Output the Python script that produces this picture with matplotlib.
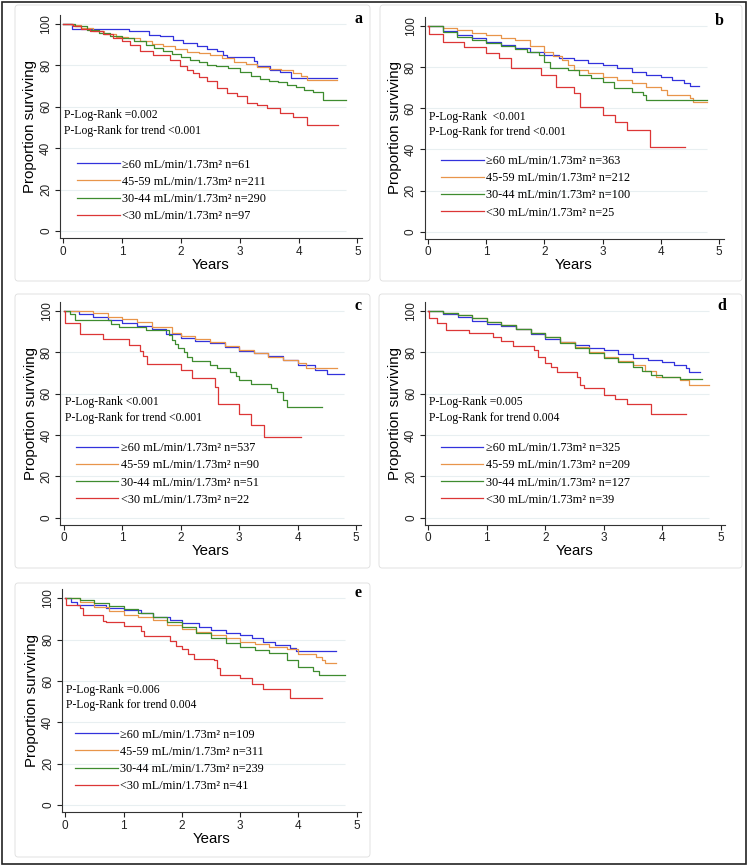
import matplotlib
matplotlib.use("Agg")
import matplotlib.pyplot as plt
from matplotlib.lines import Line2D
from matplotlib.patches import Rectangle, FancyBboxPatch

# ---- data (years, % surviving), step curves ----
groups = ["\u226560", "45-59", "30-44", "<30"]

# panel a
a_t60 = [0, 0.15, 1.12, 1.45, 1.65, 1.87, 2.04, 2.27, 2.44, 2.61, 2.72, 2.78, 3.24, 3.3, 3.52, 3.68, 3.88, 4.65]
a_s60 = [100, 97.8, 96.5, 94.8, 94.0, 92.4, 90.8, 89.2, 88.0, 86.8, 85.2, 83.9, 82.0, 79.5, 78.0, 77.0, 73.8, 73.8]
a_t45 = [0, 0.15, 0.3, 0.5, 0.7, 0.9, 1.1, 1.3, 1.5, 1.7, 1.9, 2.1, 2.3, 2.5, 2.7, 2.9, 3.1, 3.3, 3.5, 3.7, 3.9, 4.05, 4.15, 4.65]
a_s45 = [100, 99.5, 98.2, 96.5, 95.2, 93.8, 93.0, 91.6, 90.4, 89.2, 88.0, 86.6, 85.8, 84.8, 83.4, 81.8, 80.6, 79.2, 78.4, 77.6, 76.4, 75.0, 73.0, 73.0]
a_t30 = [0, 0.2, 0.4, 0.6, 0.8, 1.0, 1.2, 1.4, 1.55, 1.7, 1.85, 2.0, 2.15, 2.3, 2.45, 2.6, 2.8, 3.0, 3.2, 3.35, 3.5, 3.65, 3.8, 3.95, 4.1, 4.25, 4.42, 4.8]
a_s30 = [100, 98.8, 97.3, 95.8, 94.0, 93.0, 91.8, 90.0, 88.4, 86.8, 85.4, 84.0, 82.6, 81.6, 80.4, 79.6, 78.6, 76.6, 75.0, 73.4, 72.6, 72.0, 70.6, 69.4, 68.0, 67.2, 63.4, 63.4]
a_t0 = [0, 0.17, 0.3, 0.45, 0.68, 0.85, 1.0, 1.13, 1.3, 1.53, 1.81, 1.98, 2.1, 2.2, 2.3, 2.44, 2.61, 2.78, 2.95, 3.12, 3.3, 3.46, 3.68, 3.91, 4.14, 4.68]
a_s0 = [100, 99.2, 97.6, 96.8, 95.2, 93.2, 92.0, 90.0, 86.8, 84.8, 82.8, 79.5, 78.0, 76.3, 74.2, 72.3, 69.0, 66.7, 65.0, 61.8, 61.0, 59.4, 57.0, 55.0, 51.2, 51.2]

# panel b
b_t60 = [0, 0.25, 0.5, 0.75, 1.0, 1.25, 1.5, 1.75, 2.0, 2.25, 2.5, 2.75, 3.0, 3.25, 3.5, 3.75, 4.0, 4.2, 4.4, 4.5, 4.65]
b_s60 = [100, 97.5, 95.6, 94.0, 92.4, 90.8, 89.1, 87.5, 85.9, 84.6, 83.5, 82.2, 81.0, 79.4, 77.8, 76.4, 75.0, 73.6, 72.4, 71.0, 71.0]
b_t45 = [0, 0.25, 0.5, 0.75, 1.0, 1.25, 1.5, 1.75, 2.0, 2.15, 2.3, 2.4, 2.5, 2.75, 3.0, 3.25, 3.5, 3.75, 4.0, 4.1, 4.5, 4.55, 4.8]
b_s45 = [100, 99.0, 98.0, 96.8, 95.6, 94.4, 93.2, 90.5, 87.5, 85.5, 83.5, 81.0, 78.6, 77.0, 75.4, 73.8, 72.1, 70.5, 68.9, 66.5, 64.8, 62.9, 62.9]
b_t30 = [0, 0.25, 0.5, 0.75, 1.0, 1.25, 1.5, 1.7, 1.9, 2.0, 2.1, 2.4, 2.6, 2.8, 3.0, 3.2, 3.5, 3.7, 3.75, 4.8]
b_s30 = [100, 97.3, 94.8, 93.4, 91.9, 90.3, 88.7, 87.3, 85.9, 82.7, 79.4, 78.6, 76.2, 74.5, 72.9, 69.7, 68.0, 66.5, 64.0, 64.0]
b_t0 = [0, 0.02, 0.25, 0.62, 1.0, 1.22, 1.42, 1.95, 2.2, 2.5, 2.62, 3.0, 3.22, 3.42, 3.82, 4.42]
b_s0 = [100, 96.0, 92.3, 89.8, 87.1, 84.5, 79.4, 76.1, 70.5, 67.3, 60.8, 56.9, 53.1, 49.4, 41.2, 41.2]

# panel c
c_t60 = [0, 0.25, 0.5, 0.75, 1.0, 1.25, 1.5, 1.75, 2.0, 2.25, 2.5, 2.75, 3.0, 3.25, 3.5, 3.75, 4.0, 4.3, 4.5, 4.8]
c_s60 = [100, 98.4, 96.8, 95.4, 93.9, 92.4, 91.0, 88.8, 86.6, 85.4, 84.2, 82.4, 80.7, 79.4, 78.1, 76.0, 73.8, 71.3, 69.5, 69.5]
c_t45 = [0, 0.2, 0.5, 0.75, 1.0, 1.25, 1.5, 1.85, 2.0, 2.25, 2.5, 2.75, 3.0, 3.25, 3.5, 3.75, 4.0, 4.15, 4.68]
c_s45 = [100, 99.8, 99.0, 97.0, 95.8, 94.7, 92.3, 89.4, 87.8, 86.5, 85.0, 83.0, 81.0, 79.4, 77.8, 76.2, 74.6, 72.1, 72.1]
c_t30 = [0, 0.1, 0.19, 0.8, 0.95, 1.4, 1.8, 1.85, 1.9, 1.95, 2.05, 2.1, 2.2, 2.5, 2.62, 2.85, 2.95, 3.0, 3.2, 3.55, 3.65, 3.75, 3.82, 4.42]
c_s30 = [100, 98.5, 95.5, 93.5, 92.0, 90.5, 88.5, 86.0, 84.0, 82.0, 80.0, 77.5, 75.5, 74.0, 72.5, 70.5, 68.5, 66.5, 64.5, 62.5, 60.5, 57.0, 53.3, 53.3]
c_t0 = [0, 0.02, 0.27, 0.66, 1.12, 1.3, 1.35, 1.42, 2.0, 2.2, 2.58, 2.64, 3.0, 3.2, 3.42, 4.05]
c_s0 = [100, 93.9, 88.8, 86.4, 83.4, 80.5, 78.0, 74.2, 71.2, 67.5, 63.3, 54.8, 50.0, 44.8, 39.2, 39.2]

# panel d
d_t60 = [0, 0.25, 0.5, 0.75, 1.0, 1.25, 1.5, 1.75, 2.0, 2.25, 2.5, 2.75, 3.0, 3.25, 3.5, 3.75, 4.0, 4.2, 4.4, 4.45, 4.65]
d_s60 = [100, 98.4, 96.8, 95.2, 93.6, 92.4, 91.0, 88.6, 86.2, 84.8, 83.4, 82.2, 81.0, 79.0, 77.0, 76.2, 75.4, 73.8, 72.1, 70.5, 70.5]
d_t45 = [0, 0.25, 0.5, 0.75, 1.0, 1.25, 1.5, 1.75, 2.0, 2.25, 2.5, 2.75, 3.0, 3.25, 3.5, 3.7, 3.9, 4.3, 4.45, 4.8]
d_s45 = [100, 99.0, 97.9, 96.3, 94.7, 92.9, 91.0, 89.2, 87.4, 84.8, 82.3, 80.0, 77.8, 75.8, 73.8, 71.0, 68.1, 66.5, 64.1, 64.1]
d_t30 = [0, 0.25, 0.5, 0.75, 1.0, 1.25, 1.5, 1.75, 2.0, 2.25, 2.5, 2.75, 3.0, 3.25, 3.5, 3.65, 3.8, 4.0, 4.3, 4.68]
d_s30 = [100, 99.0, 97.9, 96.6, 94.5, 93.0, 91.3, 89.4, 87.4, 84.6, 81.8, 79.4, 77.0, 75.0, 73.0, 71.0, 68.9, 67.8, 66.8, 66.8]
d_t0 = [0, 0.02, 0.15, 0.3, 0.7, 1.1, 1.25, 1.45, 1.8, 1.87, 2.0, 2.1, 2.2, 2.55, 2.6, 2.66, 3.0, 3.2, 3.4, 3.8, 4.4]
d_s0 = [100, 96.6, 94.0, 90.7, 89.0, 87.5, 85.5, 82.8, 80.8, 77.8, 74.5, 73.0, 70.5, 68.1, 64.1, 62.5, 59.5, 57.2, 54.9, 49.9, 49.9]

# panel e
e_t60 = [0, 0.1, 0.2, 0.7, 1.0, 1.3, 1.5, 1.8, 2.0, 2.3, 2.5, 2.75, 3.0, 3.2, 3.4, 3.6, 3.85, 3.95, 4.65]
e_s60 = [100, 98.0, 96.8, 95.2, 94.4, 93.0, 91.1, 89.5, 87.9, 86.3, 84.7, 83.4, 82.3, 80.6, 79.0, 77.4, 75.8, 74.7, 74.7]
e_t45 = [0, 0.25, 0.5, 0.75, 1.0, 1.25, 1.5, 1.75, 2.0, 2.25, 2.5, 2.75, 3.0, 3.25, 3.5, 3.8, 4.0, 4.3, 4.4, 4.45, 4.65]
e_s45 = [100, 98.0, 96.0, 94.0, 92.0, 90.8, 89.5, 87.2, 85.0, 83.6, 82.3, 80.6, 79.0, 77.8, 76.6, 75.3, 73.0, 71.5, 70.2, 68.5, 68.5]
e_t30 = [0, 0.25, 0.5, 0.75, 1.0, 1.25, 1.5, 1.75, 2.0, 2.25, 2.5, 2.75, 3.0, 3.25, 3.5, 3.8, 4.0, 4.25, 4.35, 4.8]
e_s30 = [100, 99.0, 97.9, 96.4, 94.8, 93.0, 91.1, 88.7, 86.3, 83.4, 80.6, 78.6, 76.6, 75.0, 73.4, 70.2, 66.6, 65.0, 62.9, 62.9]
e_t0 = [0, 0.02, 0.25, 0.3, 0.65, 0.7, 1.0, 1.3, 1.35, 1.8, 1.9, 2.0, 2.1, 2.2, 2.55, 2.6, 2.65, 3.0, 3.2, 3.4, 3.85, 4.4]
e_s0 = [100, 97.0, 95.2, 91.8, 89.0, 88.5, 86.5, 84.0, 82.0, 79.5, 77.0, 75.5, 73.0, 70.8, 70.0, 66.5, 63.0, 61.3, 58.7, 56.0, 52.0, 52.0]

n_a = [61, 211, 290, 97]
n_b = [363, 212, 100, 25]
n_c = [537, 90, 51, 22]
n_d = [325, 209, 127, 39]
n_e = [109, 311, 239, 41]

p_a = ["P-Log-Rank =0.002", "P-Log-Rank for trend <0.001"]
p_b = ["P-Log-Rank  <0.001", "P-Log-Rank for trend <0.001"]
p_c = ["P-Log-Rank <0.001", "P-Log-Rank for trend <0.001"]
p_d = ["P-Log-Rank =0.005", "P-Log-Rank for trend 0.004"]
p_e = ["P-Log-Rank =0.006", "P-Log-Rank for trend 0.004"]

colors = ["#3232dc", "#e8954a", "#3e8c2f", "#dc3636"]

W, H = 748, 866
XMIN, XMAX = -0.06, 5.08
YMIN, YMAX = -3.4, 104.3
SANS = ["Liberation Sans", "DejaVu Sans"]
SERIF = ["Liberation Serif", "DejaVu Serif"]

fig = plt.figure(figsize=(W / 100, H / 100), dpi=100)
fig.patch.set_facecolor("white")


def add_box(x1, y1, x2, y2, **kw):
    # pixel coords (top-left origin) -> figure fraction
    fig.patches.append(FancyBboxPatch((x1 / W, 1 - y2 / H), (x2 - x1) / W, (y2 - y1) / H,
                                      boxstyle="round,pad=0,rounding_size=0.004",
                                      transform=fig.transFigure, fill=False, **kw))


def panel(x0, x5, y100, y0, curves, ns, ptext, letter, leg_x, leg_y):
    ppx = (x5 - x0) / 5.0
    ppy = (y0 - y100) / 100.0
    left = x0 + XMIN * ppx
    right = x0 + XMAX * ppx
    top = y100 - (YMAX - 100) * ppy
    bottom = y0 - YMIN * ppy
    ax = fig.add_axes([left / W, 1 - bottom / H, (right - left) / W, (bottom - top) / H])
    ax.set_xlim(XMIN, XMAX)
    ax.set_ylim(YMIN, YMAX)

    yt = [0, 20, 40, 60, 80, 100]
    ax.hlines(yt, XMIN, 4.8, color="#e8eff1", lw=0.8, zorder=0)

    for (t, s), c in zip(curves, colors):
        ax.plot(t, s, drawstyle="steps-post", color=c, lw=0.9)

    for sp in ["top", "right"]:
        ax.spines[sp].set_visible(False)
    for sp in ["left", "bottom"]:
        ax.spines[sp].set_linewidth(0.8)
        ax.spines[sp].set_color("#333333")
    ax.set_xticks([0, 1, 2, 3, 4, 5])
    ax.set_yticks(yt)
    ax.tick_params(length=3.5, width=0.8, pad=2, labelsize=8.5, colors="#222222")
    ax.tick_params(axis="y", labelrotation=90)
    for lab in ax.get_xticklabels() + ax.get_yticklabels():
        lab.set_family(SANS)
    for lab in ax.get_yticklabels():
        lab.set_va("center")

    ax.set_xlabel("Years", family=SANS, fontsize=10.8, labelpad=0)
    ax.set_ylabel("Proportion surviving", family=SANS, fontsize=10.8, labelpad=2)

    ax.text(0.01, 55.8, ptext[0], family=SERIF, fontsize=8.4, va="center")
    ax.text(0.01, 48.4, ptext[1], family=SERIF, fontsize=8.4, va="center")
    ax.text(5.09, 102.5, letter, family=SERIF, fontsize=11.5, fontweight="bold",
            ha="right", va="center")

    handles = [Line2D([], [], color=c, lw=0.9) for c in colors]
    labels = ["%s mL/min/1.73m\u00b2 n=%d" % (g, n) for g, n in zip(groups, ns)]
    ax.legend(handles, labels, loc="upper left", bbox_to_anchor=(leg_x, leg_y),
              bbox_transform=ax.transData, frameon=False, prop={"family": SERIF, "size": 8.8},
              handlelength=3.5, handletextpad=0.2, labelspacing=0.42,
              borderpad=0, borderaxespad=0)
    return ax


panel(63.3, 357.3, 24.0, 231.0,
      [(a_t60, a_s60), (a_t45, a_s45), (a_t30, a_s30), (a_t0, a_s0)], n_a, p_a, "a", 0.23, 35.0)
panel(428.0, 719.0, 26.0, 231.7,
      [(b_t60, b_s60), (b_t45, b_s45), (b_t30, b_s30), (b_t0, b_s0)], n_b, p_b, "b", 0.22, 37.2)
panel(64.0, 356.0, 310.7, 517.7,
      [(c_t60, c_s60), (c_t45, c_s45), (c_t30, c_s30), (c_t0, c_s0)], n_c, p_c, "c", 0.20, 36.4)
panel(428.3, 720.7, 310.7, 517.7,
      [(d_t60, d_s60), (d_t45, d_s45), (d_t30, d_s30), (d_t0, d_s0)], n_d, p_d, "d", 0.21, 36.4)
panel(65.3, 356.7, 598.3, 805.0,
      [(e_t60, e_s60), (e_t45, e_s45), (e_t30, e_s30), (e_t0, e_s0)], n_e, p_e, "e", 0.17, 37.0)

# light panel frames
add_box(15, 5, 370, 281, lw=0.6, edgecolor="#dddddd")
add_box(380, 5, 742, 281, lw=0.6, edgecolor="#dddddd")
add_box(15, 294, 370, 568, lw=0.6, edgecolor="#dddddd")
add_box(379, 294, 742, 568, lw=0.6, edgecolor="#dddddd")
add_box(15, 583, 370, 857, lw=0.6, edgecolor="#dddddd")

# outer frame
fig.patches.append(Rectangle((1.5 / W, 1 - 864 / H), 744 / W, 862.5 / H,
                             transform=fig.transFigure, fill=False, lw=1.2, edgecolor="#222222"))

fig.savefig("out.png", dpi=100)
